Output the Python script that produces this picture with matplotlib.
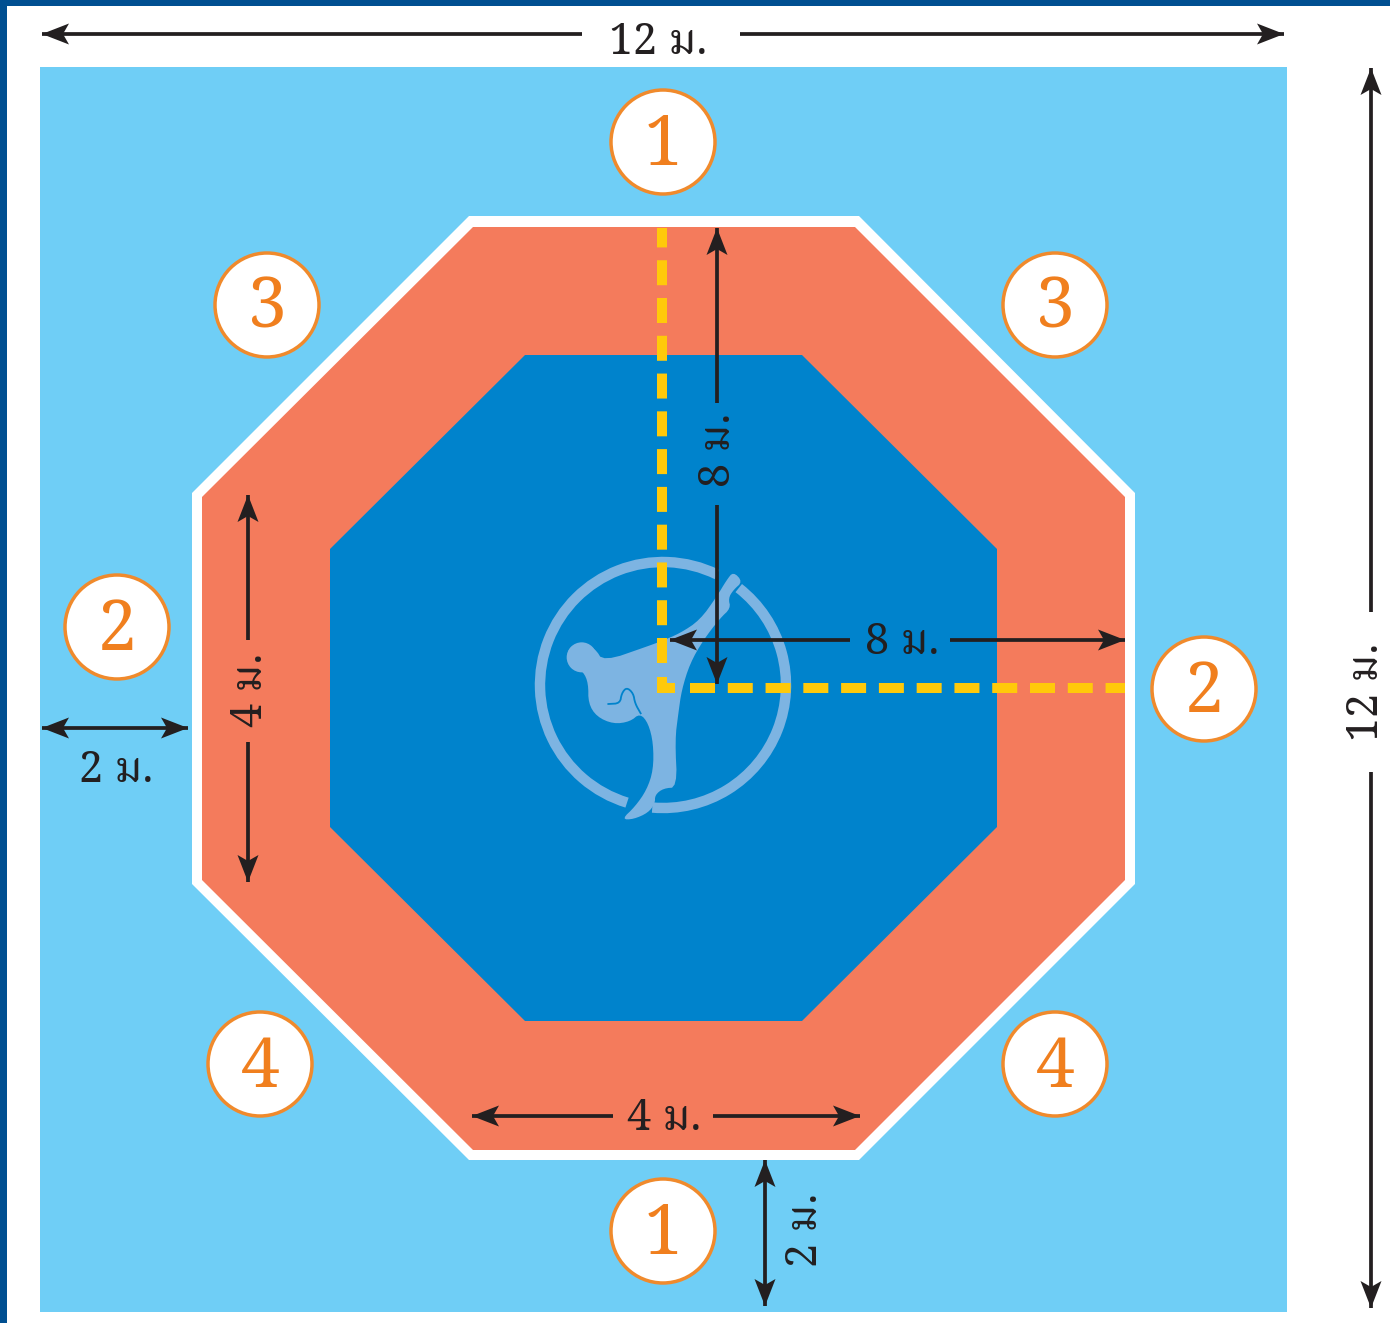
import matplotlib
matplotlib.use("Agg")
import matplotlib.pyplot as plt
import numpy as np
from matplotlib.patches import Polygon, Rectangle, Circle, Arc

plt.rcParams['font.family'] = ['Noto Serif Thai', 'DejaVu Serif']
plt.rcParams['lines.scale_dashes'] = False

W, H = 1390, 1323

# colours
FRAME = '#004f91'
MAT = '#6fcef6'
RED = '#f47b5c'
BLUE = '#0083cc'
LOGO = '#7db4e2'
YELLOW = '#ffc90a'
ORANGE = '#f08a2c'
INK = '#231f20'

# shapes in pixels
mat_box = (40, 67, 1247, 1245)
octagon_white = [(469, 216), (859, 216), (1135, 493), (1135, 884), (859, 1160), (469, 1160), (192, 884), (192, 493)]
octagon_red = [(473, 227), (855, 227), (1125, 497), (1125, 880), (855, 1150), (473, 1150), (202, 880), (202, 497)]
octagon_blue = [(525, 355), (802, 355), (997, 549), (997, 827), (802, 1021), (525, 1021), (330, 827), (330, 549)]

# kicker silhouette, in zoomed crop coords (3x, crop starts at 520,540)
kicker_zoom = [(640, 95), (668, 125), (640, 150), (625, 175), (632, 205), (600, 235), (550, 300), (510, 370),
               (485, 450), (475, 520), (465, 600), (472, 742), (430, 745), (405, 765), (405, 790), (385, 818),
               (340, 838), (305, 838), (345, 800), (380, 750), (400, 690), (400, 610), (385, 550), (360, 520),
               (330, 545), (280, 552), (230, 530), (205, 490), (205, 430), (190, 395), (160, 380), (140, 350),
               (150, 320), (185, 308), (225, 325), (250, 365), (385, 318), (420, 305), (480, 280), (540, 240),
               (590, 170), (620, 120)]
arm_zoom = [(265, 492), (300, 490), (305, 460), (320, 442), (340, 460), (345, 490), (362, 520)]
head_zoom = (185, 352, 45)

# numbered judge positions
judge_labels = ['1', '1', '2', '2', '3', '3', '4', '4']
judge_x = [663, 663, 117, 1204, 267, 1055, 260, 1055]
judge_y = [142, 1231, 627, 689, 305, 305, 1064, 1064]

# dimension arrows: x0, y0, x1, y1, head at start, head at end
arrows = [
    (42, 34, 582, 34, True, False), (740, 34, 1284, 34, False, True),
    (1371, 68, 1371, 612, True, False), (1371, 772, 1371, 1308, False, True),
    (248, 495, 248, 640, True, False), (248, 742, 248, 882, False, True),
    (717, 228, 717, 403, True, False), (717, 505, 717, 684, False, True),
    (670, 640, 850, 640, True, False), (950, 640, 1125, 640, False, True),
    (472, 1116, 613, 1116, True, False), (713, 1116, 860, 1116, False, True),
    (42, 728, 188, 728, True, True), (765, 1160, 765, 1306, True, True),
]

# dimension texts: x, y, label, rotation
dim_labels = [
    (658, 43, '12 ม.', 0), (1367, 692, '12 ม.', 90),
    (251, 690, '4 ม.', 90), (719, 450, '8 ม.', 90),
    (902, 643, '8 ม.', 0), (664, 1119, '4 ม.', 0),
    (116, 771, '2 ม.', 0), (806, 1230, '2 ม.', 90),
]


def from_zoom(points):
    return [(x / 3 + 520, y / 3 + 540) for x, y in points]


def rounded(points, closed=True):
    # corner cutting so the traced outline is not faceted
    pts = np.array(points, dtype=float)
    for _ in range(2):
        nxt = np.roll(pts, -1, axis=0)
        a = 0.75 * pts + 0.25 * nxt
        b = 0.25 * pts + 0.75 * nxt
        new = np.empty((2 * len(pts), 2))
        new[0::2] = a
        new[1::2] = b
        pts = new if closed else np.vstack([points[0], new[:-2], points[-1]])
    return pts


def head(tip, tail):
    # notched arrow head pointing from tail to tip
    tip = np.array(tip, dtype=float)
    d = tip - np.array(tail, dtype=float)
    d = d / np.hypot(*d)
    n = np.array([-d[1], d[0]])
    return [tip, tip - 27 * d + 10.5 * n, tip - 21 * d, tip - 27 * d - 10.5 * n]


fig = plt.figure(figsize=(W / 100, H / 100), dpi=100)
ax = fig.add_axes([0, 0, 1, 1])
ax.set_xlim(0, W)
ax.set_ylim(H, 0)
ax.axis('off')

# frame
ax.add_patch(Rectangle((0, 0), W, 6, fc=FRAME, ec='none'))
ax.add_patch(Rectangle((0, 0), 7, H, fc=FRAME, ec='none'))

# mat
ax.add_patch(Rectangle(mat_box[:2], mat_box[2], mat_box[3], fc=MAT, ec='none'))
ax.add_patch(Polygon(octagon_white, fc='white', ec='none'))
ax.add_patch(Polygon(octagon_red, fc=RED, ec='none'))
ax.add_patch(Polygon(octagon_blue, fc=BLUE, ec='none'))

# logo ring, in two pieces around the foot and the heel (y axis is flipped, so angles run the other way)
ring = dict(xy=(663, 685), width=246, height=246, ec=LOGO, lw=7.5, capstyle='butt')
ax.add_patch(Arc(theta1=-253, theta2=-64, **ring))
ax.add_patch(Arc(theta1=-52, theta2=95, **ring))

# kicker
ax.add_patch(Polygon(rounded(from_zoom(kicker_zoom)), fc=LOGO, ec='none'))
hx, hy = from_zoom([head_zoom[:2]])[0]
ax.add_patch(Circle((hx, hy), head_zoom[2] / 3, fc=LOGO, ec='none'))
arm = rounded(from_zoom(arm_zoom), closed=False)
ax.plot(arm[:, 0], arm[:, 1], color=BLUE, lw=1.3)

# dashed radius lines
dash = (0, (18, 9.2))
ax.plot([662, 662], [663, 228], color=YELLOW, lw=7.2, linestyle=dash)
ax.plot([690, 1125], [688, 688], color=YELLOW, lw=7.2, linestyle=dash)
ax.plot([662, 662], [677, 693], color=YELLOW, lw=7.2, solid_capstyle='butt')
ax.plot([657, 675], [688, 688], color=YELLOW, lw=7.2, solid_capstyle='butt')

# arrows
for x0, y0, x1, y1, at_start, at_end in arrows:
    ax.plot([x0, x1], [y0, y1], color=INK, lw=2.7, solid_capstyle='butt')
    if at_start:
        ax.add_patch(Polygon(head((x0, y0), (x1, y1)), fc=INK, ec='none'))
    if at_end:
        ax.add_patch(Polygon(head((x1, y1), (x0, y0)), fc=INK, ec='none'))

for x, y, label, rot in dim_labels:
    ax.text(x, y, label, color=INK, fontsize=31, rotation=rot, ha='center', va='center')

# judge circles
for label, x, y in zip(judge_labels, judge_x, judge_y):
    ax.add_patch(Circle((x, y), 52, fc='white', ec=ORANGE, lw=2.5, zorder=5))
    ax.text(x, y + 5, label, color='#f07f1e', fontsize=50, ha='center', va='center', zorder=6)

fig.savefig('out.png', dpi=100)
